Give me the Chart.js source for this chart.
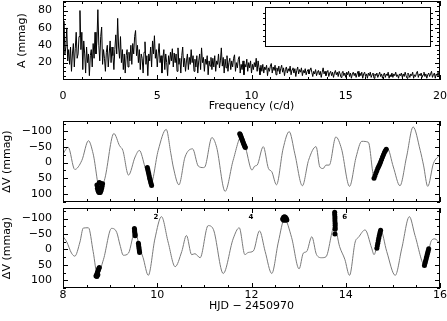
<!DOCTYPE html>
<html><head><meta charset="utf-8">
<script src="https://cdn.jsdelivr.net/npm/chart.js@4"></script>
<style>
html,body{margin:0;padding:0;background:#fff;}
#wrap{position:relative;width:447px;height:321px;overflow:hidden;background:#fff;}
canvas{position:absolute;left:0;}
</style></head><body>
<div id="wrap">
<canvas id="cTop" width="447" height="113" style="top:0"></canvas>
<canvas id="cInset" width="174" height="44" style="left:261px;top:5px"></canvas>
<canvas id="cMid" width="447" height="94" style="top:112px"></canvas>
<canvas id="cBot" width="447" height="117" style="top:204px"></canvas>
</div>
<script>
// ---------- DATA ----------
// Amplitude spectrum, sampled every FREQ_STEP c/d from 0 to 20
const FREQ_STEP = 0.05;
const amplitude = [
45,68,30,38,60,22,35,18,38,10,30,42,15,36,55,25,30,50,80,35,
55,12,45,30,8,38,20,30,5,28,35,15,42,25,55,30,45,81,40,22,
50,61,18,35,25,10,32,40,15,30,45,20,38,28,12,35,52,30,71,38,
25,50,20,35,12,30,8,28,35,15,32,22,40,18,42,30,50,57,28,40,
20,35,12,30,25,8,32,44,18,28,5,30,22,38,15,45,30,51,25,35,
15,30,42,20,28,8,25,35,12,30,20,5,28,18,32,22,36,15,31,20,
30,10,37,18,25,8,28,38,15,25,10,22,30,12,26,18,35,20,28,10,
24,15,28,8,22,30,12,37,20,26,10,24,18,28,6,22,16,26,12,25,
15,28,10,22,18,30,14,22,37,16,26,8,24,14,28,10,20,25,12,22,
15,25,29,10,20,14,24,27,8,18,12,22,6,18,15,24,10,20,14,22,
8,18,12,20,15,25,10,22,14,6,17,10,18,8,15,12,17,5,14,10,
16,19,8,15,11,17,6,14,10,16,7,13,17,9,14,5,12,15,8,13,
10,16,6,12,14,8,13,4,11,15,7,12,9,14,5,11,8,13,6,10,
12,7,11,14,9,4,10,7,12,5,9,11,6,10,3,9,14,7,10,5,
9,11,4,8,10,5,9,3,8,11,6,9,4,10,7,3,8,10,5,8,
3,9,6,10,4,8,2,7,9,5,8,3,7,10,4,8,5,9,2,7,
9,4,7,2,8,5,9,3,6,8,2,7,5,8,3,6,9,4,7,2,
6,8,3,7,5,9,2,6,4,8,3,7,5,9,4,6,2,7,5,8,
3,7,4,9,5,2,8,6,3,7,5,9,2,6,4,8,10,3,7,5,
8,3,6,9,4,7,2,6,8,4,7,10,3,6,8,2,7,5,9,4,8
];

// Light-curve model, upper panel (HJD-2450970, mmag)
const modelMidT = [8.00,8.11,8.25,8.40,8.54,8.64,8.79,8.89,9.08,9.20,9.27,9.39,9.53,9.62,9.74,9.86,10.02,10.19,10.29,10.34,10.46,10.59,10.75,10.87,10.98,11.02,11.16,11.26,11.44,11.61,11.79,11.88,12.01,12.07,12.12,12.25,12.36,12.43,12.53,12.67,12.80,12.92,13.08,13.21,13.37,13.45,13.52,13.58,13.65,13.79,13.91,14.08,14.22,14.34,14.48,14.60,14.88,15.01,15.15,15.29,15.43,15.58,15.65,15.74,15.86,16.00];
const modelMidV = [-28,-49,22,-7,-70,-28,92,50,-93,-54,-39,40,-18,-39,14,71,-39,-106,-28,14,71,-18,-44,11,16,11,-80,-49,92,-7,-85,-44,24,11,8,-51,19,29,71,-44,-99,-28,74,-7,-51,14,19,8,8,-82,-44,76,-18,-68,-65,45,-47,14,74,-18,-114,-39,8,76,3,-25];

// Light-curve model, lower panel
const modelBotT = [8.00,8.08,8.18,8.25,8.36,8.43,8.54,8.64,8.73,8.86,9.03,9.14,9.21,9.28,9.39,9.53,9.62,9.70,9.81,9.95,10.09,10.23,10.38,10.52,10.62,10.73,10.80,10.91,11.08,11.19,11.40,11.61,11.74,11.86,11.93,12.04,12.17,12.29,12.43,12.57,12.70,12.85,13.01,13.10,13.17,13.28,13.38,13.49,13.58,13.76,13.87,13.98,14.08,14.20,14.27,14.41,14.55,14.60,14.74,14.87,15.05,15.19,15.35,15.47,15.68,15.82,15.89,16.00];
const modelBotV = [-42,-24,12,22,-24,-69,-70,7,82,32,-68,-55,-14,19,12,-60,-8,27,84,-34,-106,-24,56,7,-45,17,14,27,-77,-65,78,-34,-70,17,10,5,-60,7,78,-24,-98,-39,63,12,7,-41,17,27,24,-75,-9,32,84,-24,-39,-63,-4,17,-63,7,84,-4,-106,-45,53,-29,-34,-19];

// Observed points, upper panel
const obsMidT = [8.72,8.73,8.74,8.75,8.76,8.77,8.78,8.79,8.80,8.81,8.82,8.83,8.84,8.75,8.77,8.79,8.81,8.78,8.77,8.80,
 9.79,9.80,9.81,9.82,9.83,9.84,9.85,9.86,9.87,9.88,
 11.75,11.76,11.77,11.78,11.79,11.80,11.81,11.82,11.83,11.84,11.85,11.86,11.87,
 14.60,14.62,14.64,14.66,14.68,14.70,14.72,14.74,14.76,14.78,14.80,14.82,14.84,14.86];
const obsMidV = [72,82,88,92,95,96,94,96,92,88,82,76,68,80,84,86,80,90,64,66,
 16,22,29,36,43,50,56,62,68,73,
 -92,-90,-86,-82,-78,-74,-70,-66,-62,-58,-55,-51,-48,
 50,42,33,26,18,12,5,-2,-10,-18,-25,-32,-38,-43];

// Observed points, lower panel
const obsBotT = [8.70,8.71,8.72,8.73,8.74,8.75,8.76,8.77,8.72,8.74,
 9.515,9.52,9.52,9.525,9.53,9.53,
 9.60,9.605,9.61,9.615,9.62,9.625,
 12.66,12.68,12.70,12.72,12.74,12.68,12.72,12.70,12.75,
 13.765,13.765,13.77,13.77,13.77,13.775,13.775,13.775,13.775,13.77,
 14.66,14.67,14.68,14.69,14.70,14.71,14.72,14.73,14.74,
 15.67,15.68,15.69,15.70,15.71,15.72,15.73,15.74,15.75,15.76];
const obsBotV = [86,84,80,76,71,66,62,59,88,82,
 -68,-63,-58,-53,-48,-44,
 -20,-14,-8,-2,4,10,
 -98,-104,-106,-104,-100,-94,-94,-98,-95,
 -120,-113,-106,-99,-92,-85,-78,-71,-65,-50,
 -4,-12,-20,-28,-36,-43,-50,-56,-62,
 52,46,40,34,28,22,16,10,4,-2];

// Small night markers in the lower panel
const markerText = ['2','4','6'];
const markerT = [9.97,11.99,13.98];
const markerV = [-105,-105,-105];

// Tick values
const freqMajor = [0,5,10,15,20];
const freqMinor = [1,2,3,4,6,7,8,9,11,12,13,14,16,17,18,19];
const ampMajor = [20,40,60,80];
const ampMinor = [5,10,15,25,30,35,45,50,55,65,70,75,85,90];
const hjdMajor = [8,10,12,14,16];
const hjdMinor = [8.5,9,9.5,10.5,11,11.5,12.5,13,13.5,14.5,15,15.5];
const dvMajor = [-100,-50,0,50,100];
const dvMinor = [-125,-75,-25,25,75,125];
const insetTicks = [1,2,3,4,5,6];

// ---------- HELPERS ----------
const FONT = {family:'DejaVu Sans', size:11};
const minus = v => String(v).replace('-', '\u2212');
const setTicks = vals => s => { s.ticks = vals.map(v => ({value:v})); };

const boxTicks = {
  id:'boxTicks',
  afterDatasetsDraw(chart, args, opts){
    const {ctx, chartArea:a} = chart;
    ctx.save();
    ctx.strokeStyle = '#000'; ctx.lineWidth = 1;
    if (opts.border !== false){
      ctx.strokeRect(a.left+0.5, a.top+0.5, a.right-a.left-1, a.bottom-a.top-1);
    }
    const dir = opts.outward ? -1 : 1;
    ctx.beginPath();
    for (const s of (opts.specs||[])){
      const sc = chart.scales[s.axis];
      for (const [vals,len] of [[s.major||[], s.majorLen],[s.minor||[], s.minorLen]]){
        for (const v of vals){
          const p = Math.round(sc.getPixelForValue(v)) + 0.5;
          if (sc.isHorizontal()){
            if (s.sides.includes('bottom')){ ctx.moveTo(p, a.bottom); ctx.lineTo(p, a.bottom - dir*len); }
            if (s.sides.includes('top')){ ctx.moveTo(p, a.top); ctx.lineTo(p, a.top + dir*len); }
          } else {
            if (s.sides.includes('left')){ ctx.moveTo(a.left, p); ctx.lineTo(a.left + dir*len, p); }
            if (s.sides.includes('right')){ ctx.moveTo(a.right, p); ctx.lineTo(a.right - dir*len, p); }
          }
        }
      }
    }
    ctx.stroke();
    ctx.restore();
  }
};

const markerLabels = {
  id:'markerLabels',
  afterDatasetsDraw(chart, args, opts){
    if (!opts.text) return;
    const {ctx} = chart;
    const xs = chart.scales.x, ys = chart.scales.y;
    ctx.save();
    ctx.fillStyle = '#000';
    ctx.font = 'bold 7px "DejaVu Sans"';
    ctx.textAlign = 'center'; ctx.textBaseline = 'middle';
    opts.text.forEach((t,i) => ctx.fillText(t, xs.getPixelForValue(opts.t[i]), ys.getPixelForValue(opts.v[i])));
    ctx.restore();
  }
};

const common = {
  animation:false, responsive:false, events:[],
  plugins:{legend:{display:false}, tooltip:{enabled:false}}
};

// ---------- TOP: amplitude spectrum ----------
new Chart(document.getElementById('cTop'), {
  type:'line',
  data:{datasets:[{
    data: amplitude.map((a,i) => ({x: i*FREQ_STEP, y: a})),
    borderColor:'#000', borderWidth:1, pointRadius:0, tension:0
  }]},
  options:{
    ...common,
    layout:{padding:{top:1,right:7,left:0,bottom:0}},
    plugins:{...common.plugins,
      boxTicks:{specs:[
        {axis:'x', major:freqMajor, minor:freqMinor, majorLen:5, minorLen:3, sides:['top','bottom']},
        {axis:'y', major:ampMajor, minor:ampMinor, majorLen:5, minorLen:3, sides:['left','right']}
      ]}},
    scales:{
      x:{type:'linear', min:0, max:20, afterBuildTicks:setTicks(freqMajor),
        grid:{display:false, drawTicks:false}, border:{display:false},
        ticks:{padding:10, font:FONT, color:'#000', maxRotation:0, callback:v=>v},
        title:{display:true, text:'Frequency (c/d)', font:FONT, color:'#000', padding:{top:0,bottom:0}},
        afterFit:s=>{s.height=33; s.paddingLeft=0; s.paddingRight=0;}},
      y:{type:'linear', min:0, max:91, afterBuildTicks:setTicks(ampMajor),
        grid:{display:false, drawTicks:false}, border:{display:false},
        ticks:{padding:11, font:FONT, color:'#000', callback:v=>v},
        title:{display:true, text:'A (mmag)', font:FONT, color:'#000', padding:{top:16,bottom:0}},
        afterFit:s=>{s.width=63; s.paddingTop=0; s.paddingBottom=0;}}
    }
  },
  plugins:[boxTicks]
});

// ---------- INSET box ----------
new Chart(document.getElementById('cInset'), {
  type:'line',
  data:{datasets:[{data:[]}]},
  options:{
    ...common,
    layout:{padding:{top:2,bottom:2,left:4,right:4}},
    plugins:{...common.plugins,
      boxTicks:{outward:true, specs:[
        {axis:'y', major:insetTicks, minor:[], majorLen:2, minorLen:2, sides:['left','right']}
      ]}},
    scales:{
      x:{type:'linear', min:0, max:1, display:false},
      y:{type:'linear', min:0, max:7, display:false}
    }
  },
  plugins:[boxTicks]
});

// ---------- light-curve panels ----------
function lightCurve(id, mT, mV, oT, oV, opts){
  return new Chart(document.getElementById(id), {
    type:'line',
    data:{datasets:[
      {type:'scatter', data:oT.map((t,i)=>({x:t,y:oV[i]})), showLine:false,
       pointRadius:2.5, pointBackgroundColor:'#000', pointBorderWidth:0, order:0},
      {data:mT.map((t,i)=>({x:t,y:mV[i]})), borderColor:'#7a7a7a', borderWidth:1,
       pointRadius:0, cubicInterpolationMode:'monotone', order:1}
    ]},
    options:{
      ...common,
      layout:{padding:{top:opts.padTop,right:7,left:0,bottom:0}},
      plugins:{...common.plugins,
        boxTicks:{specs:[
          {axis:'x', major:hjdMajor, minor:hjdMinor, majorLen:5, minorLen:3, sides:['top','bottom']},
          {axis:'y', major:dvMajor, minor:dvMinor, majorLen:5, minorLen:3, sides:['left','right']}
        ]},
        markerLabels: opts.markers || {}
      },
      scales:{
        x:{type:'linear', min:8, max:16, afterBuildTicks:setTicks(hjdMajor),
          grid:{display:false, drawTicks:false}, border:{display:false},
          ticks:{display:opts.showX, padding:1, font:FONT, color:'#000', maxRotation:0, callback:v=>v},
          title:{display:opts.showX, text:'HJD \u2212 2450970', font:FONT, color:'#000', padding:{top:0,bottom:8}},
          afterFit:s=>{s.height=opts.xHeight; s.paddingLeft=0; s.paddingRight=0;}},
        y:{type:'linear', min:opts.yMin, max:opts.yMax, reverse:true, afterBuildTicks:setTicks(dvMajor),
          grid:{display:false, drawTicks:false}, border:{display:false},
          ticks:{padding:11, font:FONT, color:'#000', callback:minus},
          title:{display:true, text:'\u0394V (mmag)', font:FONT, color:'#000', padding:{top:1,bottom:0}},
          afterFit:s=>{s.width=63; s.paddingTop=0; s.paddingBottom=0;}}
      }
    },
    plugins:[boxTicks, markerLabels]
  });
}

lightCurve('cMid', modelMidT, modelMidV, obsMidT, obsMidV,
  {padTop:9, xHeight:2, showX:false, yMin:-133, yMax:126});
lightCurve('cBot', modelBotT, modelBotV, obsBotT, obsBotV,
  {padTop:0, xHeight:33, showX:true, yMin:-134, yMax:125,
   markers:{text:markerText, t:markerT, v:markerV}});
</script>
</body></html>
